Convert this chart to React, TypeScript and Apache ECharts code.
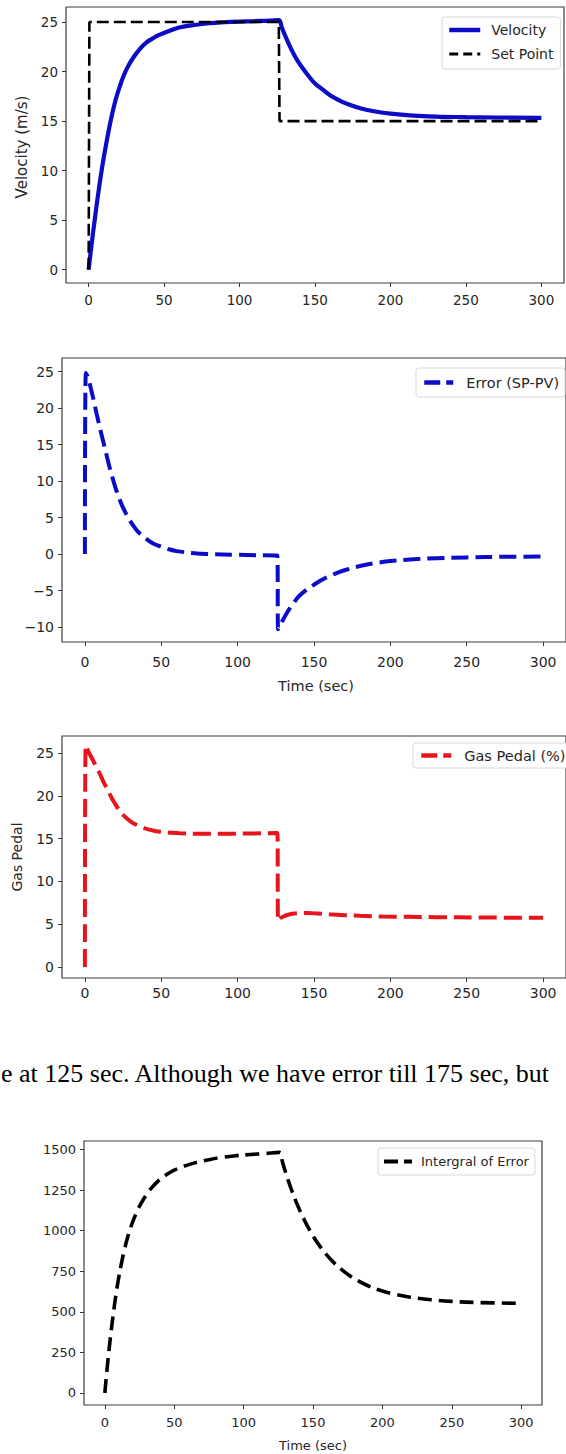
import React, { useEffect, useRef } from "react";
import * as echarts from "echarts";

// ---------- data ----------
const xTicks = [0, 50, 100, 150, 200, 250, 300];
const velTicks = [0, 5, 10, 15, 20, 25];
const errTicks = [-10, -5, 0, 5, 10, 15, 20, 25];
const gasTicks = [0, 5, 10, 15, 20, 25];
const intTicks = [0, 250, 500, 750, 1000, 1250, 1500];

const velTime = [0, 2, 4, 6, 8, 10, 12, 14, 16, 18, 20, 23, 26, 30, 34, 38, 42, 46, 50, 55, 60, 70, 80, 90, 100, 110, 120, 126, 128, 130, 134, 138, 142, 146, 150, 155, 160, 166, 172, 180, 190, 200, 215, 230, 250, 270, 300];
const velocity = [0, 2.6, 5.0, 7.3, 9.4, 11.3, 13.0, 14.6, 16.0, 17.2, 18.2, 19.5, 20.5, 21.5, 22.3, 22.9, 23.3, 23.65, 23.9, 24.2, 24.45, 24.7, 24.88, 24.98, 25.05, 25.1, 25.15, 25.2, 24.45, 23.7, 22.35, 21.2, 20.3, 19.5, 18.8, 18.2, 17.6, 17.1, 16.7, 16.3, 15.97, 15.75, 15.56, 15.46, 15.4, 15.36, 15.33];

const spTime = [0, 0.5, 126, 126.5, 300];
const setPoint = [0, 25, 25, 15, 15];

const errTime = [0, 0.6, 2, 4, 6, 8, 10, 12, 14, 16, 18, 20, 22, 24, 26, 28, 30, 33, 36, 40, 45, 50, 55, 60, 70, 80, 100, 125, 126, 126.5, 128, 130, 133, 136, 140, 145, 150, 155, 160, 166, 172, 180, 190, 200, 215, 230, 250, 275, 300];
const errorSPPV = [0, 24.8, 24.2, 22.6, 20.8, 18.9, 17.1, 15.4, 13.7, 12.0, 10.5, 9.1, 7.9, 6.8, 5.9, 5.1, 4.4, 3.5, 2.8, 2.1, 1.4, 1.0, 0.65, 0.4, 0.15, 0.0, -0.1, -0.2, -0.2, -10.3, -9.7, -8.9, -7.8, -6.9, -5.8, -4.9, -4.2, -3.55, -3.05, -2.5, -2.1, -1.65, -1.25, -0.95, -0.72, -0.57, -0.46, -0.38, -0.34];

const gasTime = [0, 0.5, 2, 4, 6, 8, 10, 12, 14, 16, 18, 20, 23, 26, 30, 34, 38, 42, 46, 50, 56, 62, 75, 90, 110, 125, 126, 126.5, 128, 130, 133, 137, 141, 146, 152, 160, 170, 180, 195, 210, 230, 260, 300];
const gasPedal = [0, 25.9, 25.3, 24.6, 23.9, 23.2, 22.5, 21.7, 21.0, 20.3, 19.6, 19.0, 18.2, 17.6, 17.0, 16.6, 16.3, 16.05, 15.9, 15.8, 15.7, 15.62, 15.58, 15.58, 15.6, 15.65, 15.65, 5.4, 5.7, 5.9, 6.1, 6.25, 6.3, 6.3, 6.25, 6.15, 6.05, 5.98, 5.9, 5.86, 5.82, 5.78, 5.75];

const intTime = [0, 2, 4, 6, 8, 10, 12, 14, 16, 18, 20, 23, 26, 30, 34, 38, 42, 46, 50, 55, 60, 67, 75, 85, 95, 105, 115, 126, 128, 130, 132, 135, 138, 141, 144, 148, 152, 156, 160, 165, 170, 176, 182, 190, 200, 210, 220, 235, 250, 270, 300];
const intError = [0, 180, 340, 480, 605, 710, 800, 878, 945, 1003, 1053, 1115, 1166, 1222, 1266, 1302, 1330, 1353, 1372, 1390, 1405, 1422, 1437, 1452, 1462, 1469, 1475, 1482, 1422, 1366, 1313, 1240, 1174, 1115, 1061, 997, 941, 892, 849, 803, 764, 725, 693, 659, 628, 606, 590, 574, 564, 557, 552];

const paragraph = "e at 125 sec. Although we have error till 175 sec, but";

// ---------- helpers ----------
const pairs = (t: number[], v: number[]) => t.map((x, i) => [x, v[i]]);
const FONT = "DejaVu Sans";
const TXT = "#262626";
const fmt = (v: number) => String(v).replace("-", "\u2212");

const grids = [
  { left: 66, top: 7, width: 498, height: 276 },
  { left: 62, top: 358, width: 509, height: 284 },
  { left: 62, top: 736, width: 518, height: 242 },
  { left: 84, top: 1141, width: 458, height: 264 },
].map((g) => ({ ...g, show: true, borderColor: "#3c3c3c", borderWidth: 1.2, backgroundColor: "transparent" }));

function xAxis(i: number, margin: number, fs: number) {
  return {
    type: "value",
    gridIndex: i,
    min: -15,
    max: 315,
    axisLine: { show: false, onZero: false },
    splitLine: { show: false },
    axisTick: { show: true, customValues: xTicks, length: 4, lineStyle: { color: "#333", width: 1 } },
    axisLabel: { customValues: xTicks, margin, fontSize: fs, fontFamily: FONT, color: TXT },
  };
}
function yAxis(i: number, min: number, max: number, ticks: number[], fs: number) {
  return {
    type: "value",
    gridIndex: i,
    min,
    max,
    axisLine: { show: false, onZero: false },
    splitLine: { show: false },
    axisTick: { show: true, customValues: ticks, length: 4, lineStyle: { color: "#333", width: 1 } },
    axisLabel: { customValues: ticks, margin: 8, fontSize: fs, fontFamily: FONT, color: TXT, formatter: fmt },
  };
}
function legend(items: any[], left: number, top: number, fs: number, itemWidth: number, textPad: number, padding: number[]) {
  return {
    data: items,
    left,
    top,
    orient: "vertical",
    itemWidth,
    itemHeight: 14,
    itemGap: 10,
    padding,
    borderColor: "#d8d8d8",
    borderWidth: 1,
    borderRadius: 3,
    backgroundColor: "#fff",
    itemStyle: { color: "rgba(0,0,0,0)", borderWidth: 0, opacity: 0 },
    textStyle: { fontSize: fs, fontFamily: FONT, color: TXT, padding: [0, 0, 0, textPad] },
  };
}

const option = {
  animation: false,
  backgroundColor: "#fff",
  grid: grids,
  xAxis: [xAxis(0, 10, 13.5), xAxis(1, 13, 14), xAxis(2, 8, 14), xAxis(3, 11, 13)],
  yAxis: [
    yAxis(0, -1.35, 26.52, velTicks, 13.5),
    yAxis(1, -12.05, 26.85, errTicks, 14),
    yAxis(2, -1.29, 27.0, gasTicks, 14),
    yAxis(3, -74, 1552, intTicks, 13),
  ],
  legend: [
    legend(
      [
        { name: "Velocity", lineStyle: { width: 4.5 } },
        { name: "Set Point", lineStyle: { width: 3, type: [9, 5] } },
      ],
      442, 17, 14, 31, 6, [6, 7, 8, 5]
    ),
    legend([{ name: "Error (SP-PV)", lineStyle: { width: 4.5, type: [16, 6] } }], 416, 368, 14.5, 29, 8, [7, 6, 7, 6]),
    legend([{ name: "Gas Pedal (%)", lineStyle: { width: 4.5, type: [16, 6] } }], 413, 743, 14.5, 30, 8, [5, 6, 5, 6]),
    legend([{ name: "Intergral of Error", lineStyle: { width: 4, type: [14, 6] } }], 378, 1148, 13, 28, 4, [7, 6, 7, 4]),
  ],
  series: [
    {
      name: "Velocity", type: "line", xAxisIndex: 0, yAxisIndex: 0, data: pairs(velTime, velocity),
      symbol: "none", smooth: 0.4, color: "#0c0cc8",
      lineStyle: { color: "#0c0cc8", width: 4.2 },
    },
    {
      name: "Set Point", type: "line", xAxisIndex: 0, yAxisIndex: 0, data: pairs(spTime, setPoint),
      symbol: "none", color: "#000",
      lineStyle: { color: "#000", width: 2.6, type: [12, 5] },
    },
    {
      name: "Error (SP-PV)", type: "line", xAxisIndex: 1, yAxisIndex: 1, data: pairs(errTime, errorSPPV),
      symbol: "none", smooth: 0.35, color: "#0c0cc8",
      lineStyle: { color: "#0c0cc8", width: 4, type: [17, 7] },
    },
    {
      name: "Gas Pedal (%)", type: "line", xAxisIndex: 2, yAxisIndex: 2, data: pairs(gasTime, gasPedal),
      symbol: "none", smooth: 0.35, color: "#e8141c",
      lineStyle: { color: "#e8141c", width: 4, type: [18, 7] },
    },
    {
      name: "Intergral of Error", type: "line", xAxisIndex: 3, yAxisIndex: 3, data: pairs(intTime, intError),
      symbol: "none", smooth: 0.4, color: "#000",
      lineStyle: { color: "#000", width: 3.6, type: [14, 7] },
    },
  ],
  graphic: [
    {
      type: "text", x: 22, y: 147, rotation: Math.PI / 2,
      style: { text: "Velocity (m/s)", align: "center", verticalAlign: "middle", fontSize: 15, fontFamily: FONT, fill: TXT },
    },
    {
      type: "text", x: 17, y: 857, rotation: Math.PI / 2,
      style: { text: "Gas Pedal", align: "center", verticalAlign: "middle", fontSize: 14, fontFamily: FONT, fill: TXT },
    },
    {
      type: "text", x: 316, y: 686,
      style: { text: "Time (sec)", align: "center", verticalAlign: "middle", fontSize: 14.5, fontFamily: FONT, fill: TXT },
    },
    {
      type: "text", x: 313, y: 1445,
      style: { text: "Time (sec)", align: "center", verticalAlign: "middle", fontSize: 13, fontFamily: FONT, fill: TXT },
    },
    {
      type: "text", x: 1, y: 1073,
      style: { text: paragraph, align: "left", verticalAlign: "middle", fontSize: 26, fontFamily: "Liberation Serif", fill: "#000" },
    },
  ],
};

export default function App() {
  const ref = useRef<HTMLDivElement>(null);
  useEffect(() => {
    const chart = echarts.init(ref.current as HTMLDivElement, null, { renderer: "svg" });
    chart.setOption(option as any);
    return () => chart.dispose();
  }, []);
  return (
    <div
      ref={ref}
      style={{ position: "absolute", left: 0, top: 0, width: 566, height: 1454, background: "#fff" }}
    />
  );
}
